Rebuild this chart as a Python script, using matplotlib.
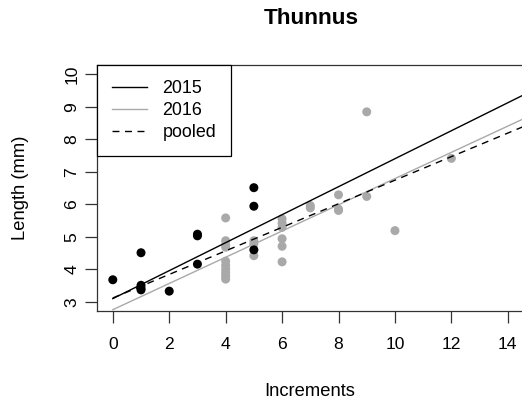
import matplotlib
matplotlib.use("Agg")
import matplotlib.pyplot as plt
import numpy as np

plt.rcParams['font.family'] = ['Liberation Sans', 'DejaVu Sans']

# data
x2015 = [0, 1, 1, 1, 1, 2, 3, 3, 3, 5, 5, 5]
y2015 = [3.68, 4.51, 3.51, 3.42, 3.37, 3.33, 5.03, 5.08, 4.16, 6.51, 5.94, 4.60]

x2016 = [4, 4, 4, 4, 4, 4, 4, 4, 4, 4, 5, 5, 5, 6, 6, 6, 6, 6, 6, 7, 7, 8, 8, 8, 9, 9, 10, 12]
y2016 = [5.58, 4.88, 4.75, 4.68, 4.25, 4.12, 4.00, 3.90, 3.80, 3.70, 4.88, 4.78, 4.42,
         5.55, 5.42, 5.29, 4.94, 4.71, 4.23, 5.96, 5.89, 6.29, 5.85, 5.81, 8.84, 6.24, 5.19, 7.41]

# fitted lines (intercept, slope)
fit2015 = (3.10, 0.430)
fit2016 = (2.76, 0.403)
fitpooled = (3.12, 0.362)

xticks = [0, 2, 4, 6, 8, 10, 12, 14]
yticks = [3, 4, 5, 6, 7, 8, 9, 10]

W, H = 522, 403
fig = plt.figure(figsize=(W/100, H/100), dpi=100)
ax = fig.add_axes([97/W, 1-311/H, (523.6-97)/W, (311-65)/H])
ax.set_xlim(-0.56, 14.56)
ax.set_ylim(2.72, 10.28)

gray = '#A9A9A9'
ax.scatter(x2016, y2016, s=42, color=gray, edgecolors='none', zorder=2)
ax.scatter(x2015, y2015, s=42, color='black', edgecolors='none', zorder=3)

xx = np.array([0, 15])
l1, = ax.plot(xx, fit2015[0] + fit2015[1]*xx, color='black', lw=1.0, zorder=4)
l2, = ax.plot(xx, fit2016[0] + fit2016[1]*xx, color=gray, lw=1.0, zorder=4)
l3, = ax.plot(xx, fitpooled[0] + fitpooled[1]*xx, color='black', lw=1.0, dashes=(5, 4), zorder=4)

ax.set_xticks(xticks)
ax.set_yticks(yticks)
ax.set_yticklabels([str(v) for v in yticks], rotation=90, va='center')
ax.tick_params(axis='both', direction='out', length=8.6, width=0.9, color='#333333',
               labelsize=12.6)
ax.tick_params(axis='x', pad=10.3)
ax.tick_params(axis='y', pad=4.0)
for s in ax.spines.values():
    s.set_color('#333333')
    s.set_linewidth(0.9)

leg = ax.legend([l1, l2, l3], ['2015', '2016', 'pooled'], loc='upper left',
                bbox_to_anchor=(0, 1), borderaxespad=0, fancybox=False,
                edgecolor='black', framealpha=1, fontsize=12.9,
                handlelength=1.95, handletextpad=0.85, labelspacing=0.27,
                borderpad=0.85)
leg.get_frame().set_linewidth(0.9)

fig.text(311/W, 1-19/H, 'Thunnus', ha='center', va='center', fontsize=16.2, fontweight='bold')
fig.text(310/W, 1-391/H, 'Increments', ha='center', va='center', fontsize=13.2)
fig.text(21/W, 1-188/H, 'Length (mm)', ha='center', va='center', fontsize=13.2, rotation=90)

fig.savefig('out.png', dpi=100)
